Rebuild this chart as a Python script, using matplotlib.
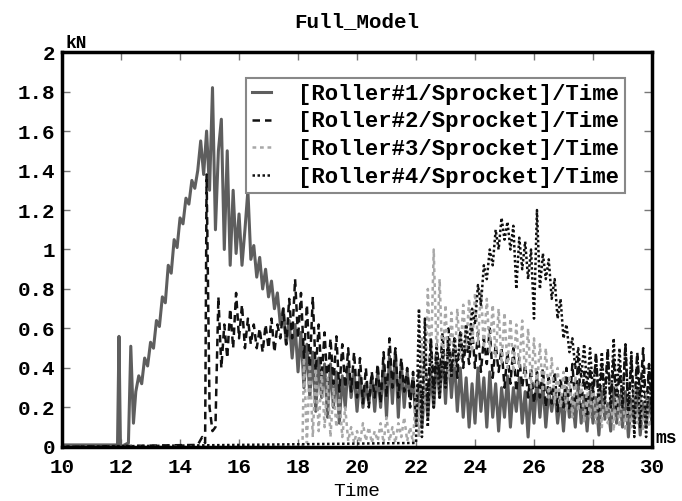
import numpy as np
import matplotlib
matplotlib.use('Agg')
import matplotlib.pyplot as plt

plt.rcParams['font.family'] = ['Liberation Mono', 'DejaVu Sans Mono']
plt.rcParams['font.weight'] = 'bold'

# sampling step of the traces (ms)
step = 0.1

# Roller#1 : short spikes before the ramp, then regular samples from 12.5 ms
r1_pre_t = [10.0, 11.88, 11.93, 11.98, 12.25, 12.33, 12.42]
r1_pre_v = [0.01, 0.01, 0.56, 0.0, 0.02, 0.51, 0.12]
r1_t0 = 12.5
r1_vals = [0.28, 0.36, 0.32, 0.45, 0.41,
	0.53, 0.50, 0.64, 0.61, 0.76, 0.73, 0.92, 0.88, 1.05, 1.01,
	1.16, 1.13, 1.26, 1.23, 1.35, 1.31, 1.40, 1.55, 1.38, 1.60,
	1.30, 1.82, 1.10, 1.50, 1.66, 1.00, 1.50, 0.92, 1.30, 0.98,
	1.18, 0.92, 1.10, 1.30, 0.95, 1.02, 0.86, 0.96, 0.80, 0.90,
	0.76, 0.84, 0.70, 0.78, 0.62, 0.70, 0.52, 0.64, 0.45, 0.62,
	0.38, 0.58, 0.30, 0.52, 0.25, 0.48, 0.18, 0.45, 0.25, 0.42,
	0.15, 0.42, 0.20, 0.38, 0.12, 0.36, 0.20, 0.42, 0.25, 0.38,
	0.18, 0.36, 0.20, 0.32, 0.22, 0.36, 0.18, 0.38, 0.20, 0.42,
	0.15, 0.46, 0.22, 0.48, 0.15, 0.42, 0.20, 0.38, 0.25, 0.35,
	0.12, 0.32, 0.10, 0.30, 0.15, 0.38, 0.20, 0.45, 0.25, 0.48,
	0.22, 0.50, 0.25, 0.45, 0.18, 0.40, 0.15, 0.35, 0.10, 0.32,
	0.12, 0.40, 0.18, 0.35, 0.10, 0.38, 0.15, 0.32, 0.08, 0.30,
	0.15, 0.36, 0.10, 0.30, 0.18, 0.35, 0.12, 0.28, 0.05, 0.30,
	0.12, 0.35, 0.15, 0.32, 0.10, 0.28, 0.18, 0.30, 0.12, 0.26,
	0.08, 0.30, 0.15, 0.25, 0.10, 0.32, 0.12, 0.26, 0.08, 0.28,
	0.12, 0.25, 0.06, 0.28, 0.14, 0.22, 0.08, 0.30, 0.12, 0.26,
	0.10, 0.28, 0.05, 0.24, 0.12, 0.30, 0.06, 0.22, 0.10, 0.25, 0.12]

# Roller#2
r2_pre_t = [10.0, 14.6, 14.75, 14.85]
r2_pre_v = [0.0, 0.01, 0.05, 0.02]
r2_t0 = 14.9
r2_vals = [1.38,
	0.20, 0.08, 0.10, 0.76, 0.40, 0.62, 0.45, 0.70, 0.50, 0.78,
	0.55, 0.72, 0.50, 0.65, 0.52, 0.62, 0.50, 0.60, 0.48, 0.62,
	0.50, 0.65, 0.48, 0.62, 0.55, 0.70, 0.52, 0.75, 0.55, 0.85,
	0.55, 0.78, 0.45, 0.72, 0.40, 0.76, 0.38, 0.62, 0.35, 0.58,
	0.30, 0.55, 0.32, 0.56, 0.28, 0.52, 0.30, 0.50, 0.28, 0.48,
	0.25, 0.45, 0.22, 0.40, 0.20, 0.38, 0.25, 0.42, 0.22, 0.48,
	0.25, 0.55, 0.30, 0.50, 0.25, 0.45, 0.28, 0.40, 0.20, 0.38,
	0.15, 0.40, 0.20, 0.45, 0.25, 0.55, 0.30, 0.52, 0.35, 0.58,
	0.32, 0.60, 0.38, 0.55, 0.35, 0.58, 0.40, 0.55, 0.42, 0.60,
	0.40, 0.58, 0.38, 0.55, 0.42, 0.60, 0.35, 0.52, 0.38, 0.50,
	0.30, 0.48, 0.32, 0.50, 0.28, 0.45, 0.30, 0.42, 0.25, 0.40,
	0.22, 0.38, 0.25, 0.40, 0.20, 0.35, 0.22, 0.38, 0.18, 0.35,
	0.20, 0.40, 0.18, 0.42, 0.22, 0.45, 0.20, 0.38, 0.15, 0.40,
	0.22, 0.48, 0.18, 0.42, 0.25, 0.50, 0.20, 0.45, 0.18, 0.40,
	0.22, 0.52, 0.15, 0.45, 0.20, 0.48, 0.25, 0.50, 0.18, 0.42, 0.20]

# Roller#3
r3_pre_t = [10.0, 18.15]
r3_pre_v = [0.0, 0.0]
r3_t0 = 18.2
r3_vals = [0.45, 0.02, 0.42, 0.05, 0.40, 0.08, 0.38, 0.10,
	0.35, 0.05, 0.30, 0.10, 0.25, 0.05, 0.20, 0.03, 0.10, 0.02,
	0.08, 0.02, 0.12, 0.03, 0.10, 0.02, 0.08, 0.03, 0.12, 0.02,
	0.15, 0.03, 0.10, 0.02, 0.12, 0.05, 0.15, 0.03, 0.10, 0.02,
	0.30, 0.05, 0.55, 0.20, 0.80, 0.40, 1.00, 0.45, 0.85, 0.40,
	0.72, 0.35, 0.68, 0.40, 0.70, 0.45, 0.72, 0.50, 0.75, 0.48,
	0.78, 0.52, 0.80, 0.50, 0.75, 0.48, 0.72, 0.45, 0.70, 0.42,
	0.68, 0.40, 0.65, 0.38, 0.62, 0.40, 0.64, 0.35, 0.60, 0.30,
	0.55, 0.30, 0.52, 0.28, 0.50, 0.25, 0.45, 0.22, 0.40, 0.20,
	0.38, 0.18, 0.35, 0.15, 0.36, 0.18, 0.32, 0.12, 0.30, 0.15,
	0.32, 0.12, 0.28, 0.10, 0.30, 0.12, 0.26, 0.08, 0.30, 0.10,
	0.28, 0.08, 0.25, 0.10, 0.30, 0.12, 0.26, 0.08, 0.28, 0.10, 0.20]

# Roller#4
r4_pre_t = [10.0, 22.0]
r4_pre_v = [0.0, 0.02]
r4_t0 = 22.1
r4_vals = [0.70, 0.05, 0.65, 0.10, 0.55, 0.20, 0.50, 0.25, 0.48,
	0.30, 0.52, 0.35, 0.55, 0.40, 0.58, 0.45, 0.62, 0.50, 0.70,
	0.62, 0.82, 0.72, 0.92, 0.85, 1.00, 0.92, 1.10, 1.00, 1.16,
	1.05, 1.14, 1.00, 1.12, 0.80, 1.06, 0.90, 1.04, 0.85, 1.00,
	0.65, 1.20, 0.80, 0.98, 0.85, 0.95, 0.75, 0.85, 0.65, 0.75,
	0.55, 0.62, 0.48, 0.55, 0.40, 0.50, 0.35, 0.52, 0.30, 0.50,
	0.28, 0.45, 0.25, 0.48, 0.22, 0.45, 0.20, 0.55, 0.25, 0.50,
	0.20, 0.52, 0.18, 0.48, 0.05, 0.45, 0.10, 0.42, 0.05, 0.40, 0.15]

labels = ['[Roller#1/Sprocket]/Time', '[Roller#2/Sprocket]/Time',
	'[Roller#3/Sprocket]/Time', '[Roller#4/Sprocket]/Time']


def trace(pre_t, pre_v, t0, vals):
	t = np.concatenate([pre_t, t0 + step * np.arange(len(vals))])
	v = np.concatenate([pre_v, vals])
	return t, v


fig = plt.figure(figsize=(6.82, 5.01), dpi=100)
ax = fig.add_axes([0.091, 0.108, 0.865, 0.788])

t1, v1 = trace(r1_pre_t, r1_pre_v, r1_t0, r1_vals)
t2, v2 = trace(r2_pre_t, r2_pre_v, r2_t0, r2_vals)
t3, v3 = trace(r3_pre_t, r3_pre_v, r3_t0, r3_vals)
t4, v4 = trace(r4_pre_t, r4_pre_v, r4_t0, r4_vals)

ax.plot(t1, v1, color='#5e5e5e', lw=2.2, ls='-', label=labels[0])
ax.plot(t2, v2, color='#111111', lw=1.8, ls=(0, (3, 2)), label=labels[1])
ax.plot(t3, v3, color='#a8a8a8', lw=1.8, ls=(0, (1.5, 1.5)), label=labels[2])
ax.plot(t4, v4, color='#111111', lw=1.8, ls=(0, (1, 1)), label=labels[3])

ax.set_xlim(10, 30)
ax.set_ylim(0, 2)
ax.set_xticks(np.arange(10, 31, 2))
ax.set_yticks([0, 0.2, 0.4, 0.6, 0.8, 1, 1.2, 1.4, 1.6, 1.8, 2])
ax.set_yticklabels(['0', '0.2', '0.4', '0.6', '0.8', '1', '1.2', '1.4', '1.6', '1.8', '2'])
ax.tick_params(direction='in', top=True, right=True, length=6, width=1,
	labelsize=15, color='#777777')
ax.tick_params(axis='x', pad=8)
ax.tick_params(axis='y', pad=5)
for s in ax.spines.values():
	s.set_linewidth(2.5)

ax.set_title('Full_Model', fontsize=15, fontweight='bold', pad=18)
ax.set_xlabel('Time', fontsize=14, labelpad=4)
ax.text(0.005, 1.0, 'kN', transform=ax.transAxes, fontsize=13, va='bottom', ha='left')
ax.text(1.005, 0.0, 'ms', transform=ax.transAxes, fontsize=13, va='bottom', ha='left')

leg = ax.legend(loc='upper right', bbox_to_anchor=(0.954, 0.934), borderaxespad=0,
	prop={'size': 16, 'weight': 'bold'}, handlelength=0.85, handletextpad=1.25,
	labelspacing=0.3, fancybox=False, framealpha=1, edgecolor='#888888', borderpad=0.25)
leg.get_frame().set_linewidth(1.5)

fig.savefig('out.png', dpi=100)
